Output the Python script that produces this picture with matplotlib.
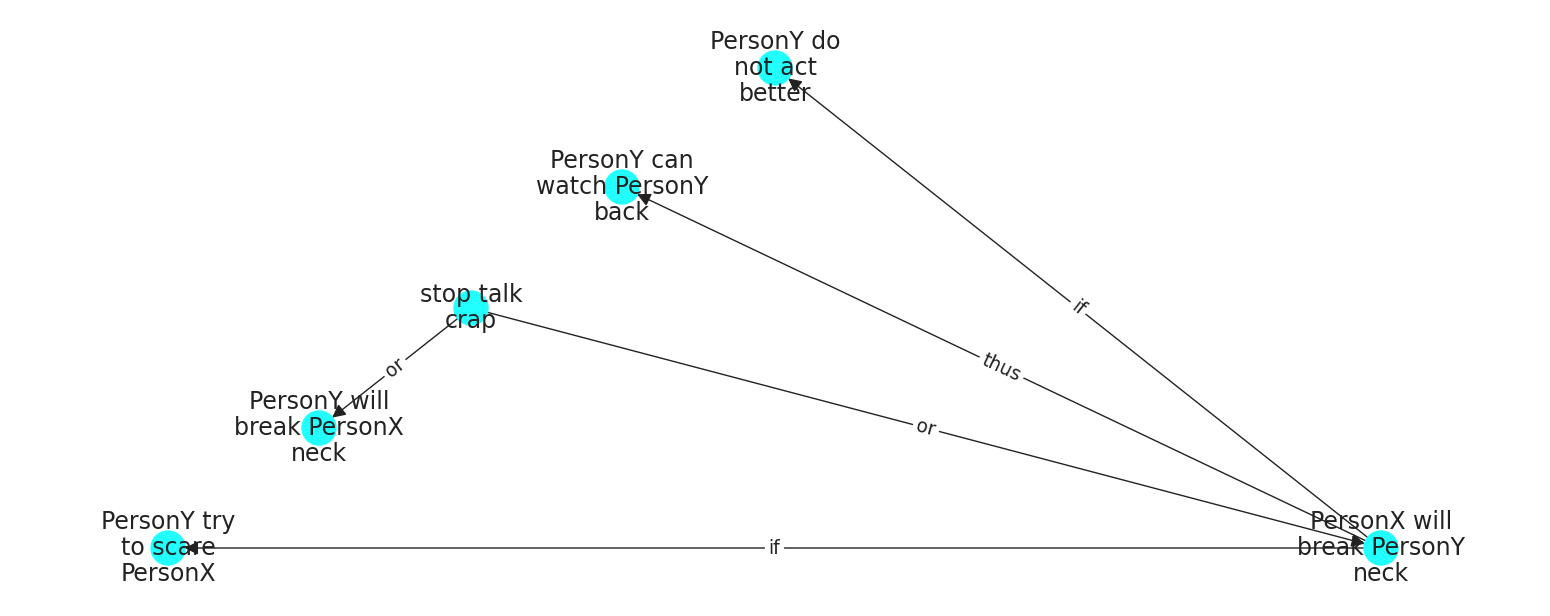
import matplotlib
matplotlib.use("Agg")
import matplotlib.pyplot as plt
import numpy as np

names = ["PersonY do\nnot act\nbetter", "PersonY can\nwatch PersonY\nback", "stop talk\ncrap",
         "PersonY will\nbreak PersonX\nneck", "PersonY try\nto scare\nPersonX", "PersonX will\nbreak PersonY\nneck"]
xs = [775, 622, 471, 319, 168, 1381]
ys = [68, 187, 308, 428, 548, 548]
edges = [(5, 0, "if"), (5, 1, "thus"), (2, 5, "or"), (2, 3, "or"), (5, 4, "if")]

fig = plt.figure(figsize=(15.5, 6.16), dpi=100)
ax = fig.add_axes([0, 0, 1, 1])
ax.set_xlim(0, 1550); ax.set_ylim(616, 0); ax.axis("off")

for s, t, lab in edges:
    ax.annotate("", xy=(xs[t], ys[t]), xytext=(xs[s], ys[s]),
                arrowprops=dict(arrowstyle="-|>", color="#222222", lw=1,
                                mutation_scale=20, shrinkA=0, shrinkB=12), zorder=1)
    mx, my = (xs[s] + xs[t]) / 2, (ys[s] + ys[t]) / 2
    ang = np.degrees(np.arctan2(-(ys[t] - ys[s]), xs[t] - xs[s]))
    if ang > 90: ang -= 180
    if ang < -90: ang += 180
    ax.text(mx, my, lab, fontsize=13.5, ha="center", va="center", rotation=ang,
            rotation_mode="anchor", color="#222222",
            bbox=dict(boxstyle="round,pad=0.2", fc="white", ec="none"), zorder=2)

ax.scatter(xs, ys, s=650, c="#22ffff", zorder=3, edgecolors="none")
for x, y, n in zip(xs, ys, names):
    ax.text(x, y, n, fontsize=17, ha="center", va="center", color="#222222",
            linespacing=1.1, zorder=4)

fig.savefig("out.png", dpi=100)
